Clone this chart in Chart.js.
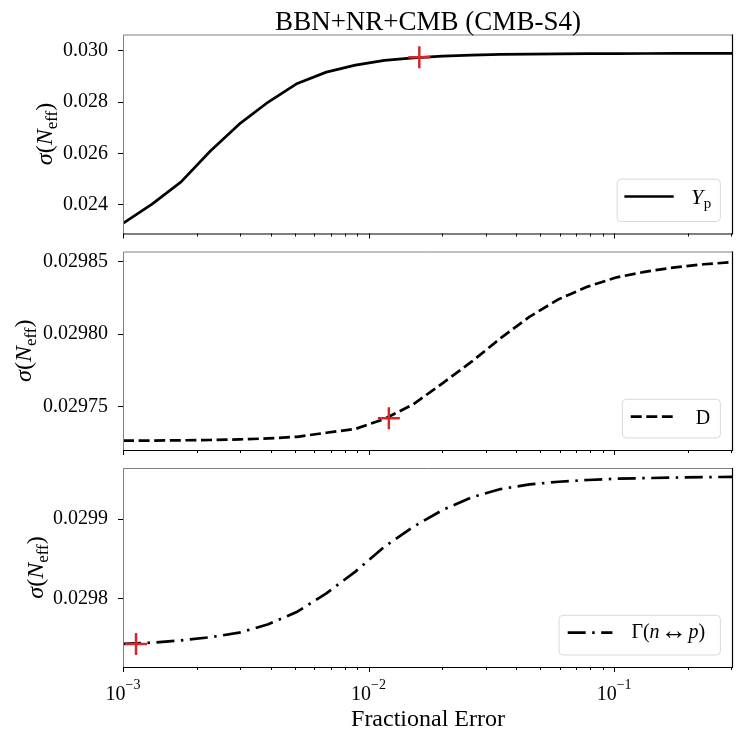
<!DOCTYPE html>
<html lang="en">
<head>
<meta charset="UTF-8">
<title>BBN+NR+CMB (CMB-S4)</title>
<script src="https://cdn.jsdelivr.net/npm/chart.js"></script>
<style>
  html, body { margin: 0; padding: 0; background: #fff; }
  #wrap { position: relative; width: 747px; height: 747px; }
  .panel { position: absolute; left: 0; top: 0; width: 747px; height: 747px; }
</style>
</head>
<body>
<div id="wrap">
  <div class="panel"><canvas id="yp"></canvas></div>
  <div class="panel"><canvas id="deut"></canvas></div>
  <div class="panel"><canvas id="rate"></canvas></div>
</div>
<script>
// fractional error grid (log spaced)
const fracError = [0.001, 0.001313, 0.001724, 0.002264, 0.002973, 0.003904, 0.005126, 0.006731,
  0.008839, 0.011606, 0.01524, 0.02001, 0.02628, 0.03451, 0.04531, 0.0595, 0.07813, 0.1026,
  0.1347, 0.1769, 0.2323, 0.305];

// sigma(N_eff) for each nuisance input
const sigmaYp = [0.023258, 0.024012, 0.024883, 0.02608, 0.027137, 0.028, 0.028726, 0.029168,
  0.029441, 0.029625, 0.029727, 0.029793, 0.029832, 0.029859, 0.02987, 0.02988, 0.02989,
  0.02989, 0.029895, 0.029898, 0.0299, 0.0299];
const sigmaD = [0.0297265, 0.0297266, 0.0297268, 0.029727, 0.0297274, 0.0297281, 0.0297292,
  0.029732, 0.0297346, 0.0297415, 0.0297517, 0.0297661, 0.029781, 0.0297972, 0.0298121,
  0.0298241, 0.0298328, 0.0298392, 0.0298431, 0.0298461, 0.0298482, 0.0298497];
const sigmaRate = [0.0297428, 0.0297444, 0.0297474, 0.0297512, 0.029757, 0.0297675, 0.0297834,
  0.0298065, 0.0298338, 0.0298652, 0.0298903, 0.0299113, 0.0299273, 0.0299377, 0.0299436,
  0.0299469, 0.0299491, 0.0299507, 0.0299515, 0.0299522, 0.0299527, 0.029953];

// current uncertainty markers (red crosses)
const markX = [0.0161, 0.0121, 0.00113];
const markY = [0.02975, 0.029742, 0.0297428];

// tick values
const ticksYp = [0.024, 0.026, 0.028, 0.030];
const ticksD = [0.02975, 0.02980, 0.02985];
const ticksRate = [0.0298, 0.0299];
const xMajor = [0.001, 0.01, 0.1];
const xMajorExp = ['\u22123', '\u22122', '\u22121'];
const xMinor = [0.002, 0.003, 0.004, 0.005, 0.006, 0.007, 0.008, 0.009,
  0.02, 0.03, 0.04, 0.05, 0.06, 0.07, 0.08, 0.09, 0.2, 0.3];

const SERIF = '"Liberation Serif", "Times New Roman", serif';

function fontOf(p) {
  return (p.italic ? 'italic ' : '') + (p.size || 20) + 'px ' + SERIF;
}

function richWidth(ctx, parts) {
  let w = 0;
  for (const p of parts) {
    ctx.font = fontOf(p);
    w += (p.padL || 0) + ctx.measureText(p.t).width + (p.padR || 0);
  }
  return w;
}

function drawRich(ctx, parts, x, y, align) {
  const w = richWidth(ctx, parts);
  let cx = align === 'center' ? x - w / 2 : (align === 'right' ? x - w : x);
  ctx.textAlign = 'left';
  ctx.textBaseline = 'alphabetic';
  ctx.fillStyle = '#000';
  for (const p of parts) {
    ctx.font = fontOf(p);
    cx += p.padL || 0;
    ctx.fillText(p.t, cx, y + (p.dy || 0));
    cx += ctx.measureText(p.t).width + (p.padR || 0);
  }
  return w;
}

const yLabelParts = [
  {t: '\u03c3', italic: true, size: 24}, {t: '(', size: 24}, {t: 'N', italic: true, size: 24},
  {t: 'eff', size: 17, dy: 5}, {t: ')', size: 24}
];

function drawLegend(ctx, area, lg, dash) {
  const bx = area.right - 12.6 - lg.w;
  const by = area.bottom - 12 - lg.h;
  ctx.save();
  ctx.beginPath();
  if (ctx.roundRect) ctx.roundRect(bx, by, lg.w, lg.h, 4); else ctx.rect(bx, by, lg.w, lg.h);
  ctx.fillStyle = 'rgba(255,255,255,0.8)';
  ctx.fill();
  ctx.strokeStyle = '#d9d9d9';
  ctx.lineWidth = 1;
  ctx.stroke();
  ctx.beginPath();
  ctx.setLineDash(dash);
  ctx.lineCap = 'butt';
  ctx.strokeStyle = '#000';
  ctx.lineWidth = 2.7;
  ctx.moveTo(bx + lg.line[0], by + 17.3);
  ctx.lineTo(bx + lg.line[1], by + 17.3);
  ctx.stroke();
  ctx.setLineDash([]);
  drawRich(ctx, lg.parts, bx + lg.textX, by + lg.base, 'left');
  ctx.restore();
}

function decorPlugin(opts) {
  return {
    id: 'decor',
    afterDatasetsDraw(chart) {
      const ctx = chart.ctx;
      const a = chart.chartArea;
      const xs = chart.scales.x;
      ctx.save();
      // frame
      ctx.lineWidth = 1;
      ctx.strokeStyle = '#808080';
      ctx.beginPath();
      ctx.moveTo(a.left + 0.5, a.bottom);
      ctx.lineTo(a.left + 0.5, a.top + 0.5);
      ctx.lineTo(a.right, a.top + 0.5);
      ctx.stroke();
      ctx.strokeStyle = '#000';
      ctx.lineWidth = 1.2;
      ctx.beginPath();
      ctx.moveTo(a.left, a.bottom + 0.5);
      ctx.lineTo(a.right - 0.5, a.bottom + 0.5);
      ctx.lineTo(a.right - 0.5, a.top);
      ctx.stroke();
      // x ticks
      ctx.lineWidth = 1;
      ctx.strokeStyle = '#000';
      const tick = (v, len) => {
        const px = Math.round(xs.getPixelForValue(v)) + 0.5;
        ctx.beginPath();
        ctx.moveTo(px, a.bottom);
        ctx.lineTo(px, a.bottom + len);
        ctx.stroke();
      };
      xMajor.forEach(v => tick(v, 5));
      xMinor.forEach(v => tick(v, 3));
      if (opts.xLabels) {
        xMajor.forEach((v, i) => {
          const px = xs.getPixelForValue(v);
          drawRich(ctx, [{t: '10', size: 20}, {t: xMajorExp[i], size: 14, dy: -11.5}], px, 700, 'center');
        });
        ctx.font = '24px ' + SERIF;
        ctx.textAlign = 'center';
        ctx.textBaseline = 'alphabetic';
        ctx.fillStyle = '#000';
        ctx.fillText('Fractional Error', (a.left + a.right) / 2, 726);
      }
      if (opts.title) {
        ctx.font = '27px ' + SERIF;
        ctx.textAlign = 'center';
        ctx.textBaseline = 'alphabetic';
        ctx.fillStyle = '#000';
        ctx.fillText(opts.title, (a.left + a.right) / 2, 30);
      }
      // y label
      ctx.save();
      ctx.translate(opts.ylabX, (a.top + a.bottom) / 2);
      ctx.rotate(-Math.PI / 2);
      drawRich(ctx, yLabelParts, 0, 0, 'center');
      ctx.restore();
      drawLegend(ctx, a, opts.legend, opts.dash);
      ctx.restore();
    }
  };
}

function makePanel(id, o) {
  const pts = fracError.map((x, i) => ({x: x, y: o.values[i]}));
  return new Chart(document.getElementById(id), {
    type: 'line',
    data: {
      datasets: [
        {
          data: [{x: markX[o.mark], y: markY[o.mark]}],
          showLine: false,
          pointStyle: 'cross',
          pointRadius: 11,
          pointBorderWidth: 2.5,
          pointBorderColor: '#d62728',
          order: 0
        },
        {
          data: pts,
          borderColor: '#000',
          borderWidth: 2.7,
          borderDash: o.dash,
          borderCapStyle: 'butt',
          borderJoinStyle: 'round',
          pointRadius: 0,
          tension: 0,
          fill: false,
          order: 1
        }
      ]
    },
    options: {
      responsive: true,
      maintainAspectRatio: false,
      animation: false,
      events: [],
      layout: { padding: { left: 0, right: 14, top: o.top, bottom: 747 - o.bottom } },
      plugins: { legend: { display: false }, tooltip: { enabled: false }, title: { display: false } },
      scales: {
        x: { type: 'logarithmic', min: 0.001, max: 0.305, display: false },
        y: {
          type: 'linear',
          min: o.min,
          max: o.max,
          afterFit: s => { s.width = 123; },
          afterBuildTicks: s => { s.ticks = o.ticks.map(v => ({value: v})); },
          ticks: {
            font: { family: SERIF, size: 20 },
            color: '#000',
            padding: 10,
            callback: v => Number(v).toFixed(o.decimals)
          },
          grid: { drawOnChartArea: false, drawTicks: true, tickLength: 5, color: '#000', lineWidth: 1 },
          border: { display: false }
        }
      }
    },
    plugins: [decorPlugin(o)]
  });
}

makePanel('yp', {
  values: sigmaYp, mark: 0, ticks: ticksYp, decimals: 3,
  min: 0.022867, max: 0.030637, top: 34.5, bottom: 233.5, ylabX: 52,
  dash: [],
  legend: { w: 103.3, h: 42.3, line: [7.3, 56.6], textX: 74, base: 25,
    parts: [{t: 'Y', italic: true, size: 22}, {t: 'p', size: 15, dy: 4, padL: 0.5}] },
  title: 'BBN+NR+CMB (CMB-S4)'
});
makePanel('deut', {
  values: sigmaD, mark: 1, ticks: ticksD, decimals: 5,
  min: 0.0297201, max: 0.029857, top: 251.5, bottom: 450, ylabX: 31,
  dash: [11, 4.6],
  legend: { w: 98, h: 38.7, line: [8.3, 50.3], textX: 73.3, base: 25,
    parts: [{t: 'D', size: 20}] }
});
makePanel('rate', {
  values: sigmaRate, mark: 2, ticks: ticksRate, decimals: 4,
  min: 0.0297138, max: 0.0299642, top: 468, bottom: 667, ylabX: 42.5,
  dash: [18, 6.5, 2.5, 6.5],
  legend: { w: 161.4, h: 39.7, line: [8.7, 53.4], textX: 72.4, base: 22.6,
    parts: [{t: '\u0393', size: 20}, {t: '(', size: 20}, {t: 'n', italic: true, size: 20},
      {t: '\u2194', size: 26, padL: 1.5, padR: 1.5, dy: 1}, {t: 'p', italic: true, size: 20}, {t: ')', size: 20}] },
  xLabels: true
});
</script>
</body>
</html>
